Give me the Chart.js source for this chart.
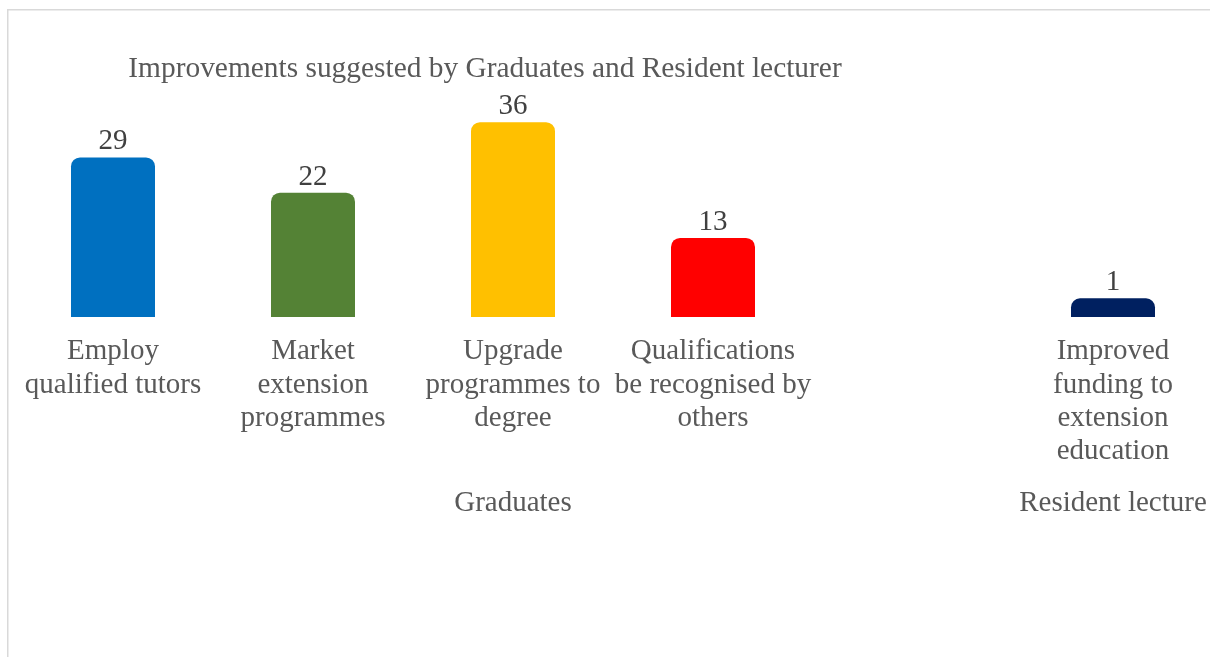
<!DOCTYPE html>
<html>
<head>
<meta charset="utf-8">
<script src="https://cdn.jsdelivr.net/npm/chart.js@4.4.1/dist/chart.umd.min.js"></script>
<style>
html,body{margin:0;padding:0;background:#fff;overflow:hidden;width:1210px;height:657px;}
#wrap{position:absolute;left:0;top:0;width:1230px;height:657px;}
</style>
</head>
<body>
<div id="wrap"><canvas id="c" width="1230" height="657"></canvas></div>
<script>
const titleText = 'Improvements suggested by Graduates and Resident lecturer';
const categories = [
  ['Employ', 'qualified tutors'],
  ['Market', 'extension', 'programmes'],
  ['Upgrade', 'programmes to', 'degree'],
  ['Qualifications', 'be recognised by', 'others'],
  '',
  ['Improved', 'funding to', 'extension', 'education']
];
const groupLabels = ['', '', 'Graduates', '', '', 'Resident lecture'];
const values = [29, 22, 36, 13, null, 1];
const barColors = ['#0070C0', '#548235', '#FFC000', '#FF0000', '#FFFFFF', '#002060'];

const FONT = "'Liberation Serif', 'Times New Roman', serif";
const TEXT = '#595959';

const framePlugin = {
  id: 'frame',
  beforeDraw(chart) {
    const ctx = chart.ctx;
    ctx.save();
    ctx.fillStyle = '#fff';
    ctx.fillRect(0, 0, chart.width, chart.height);
    ctx.strokeStyle = '#d9d9d9';
    ctx.lineWidth = 1.5;
    ctx.strokeRect(7.75, 9.75, 3000, 3000);
    ctx.restore();
  }
};

const titlePlugin = {
  id: 'offsetTitle',
  afterDraw(chart) {
    const ctx = chart.ctx;
    ctx.save();
    ctx.font = '29.4px ' + FONT;
    ctx.fillStyle = TEXT;
    ctx.textAlign = 'center';
    ctx.textBaseline = 'alphabetic';
    ctx.fillText(titleText, 485, 77);
    ctx.restore();
  }
};

const valueLabels = {
  id: 'valueLabels',
  afterDatasetsDraw(chart) {
    const ctx = chart.ctx;
    ctx.save();
    ctx.font = '29px ' + FONT;
    ctx.fillStyle = '#404040';
    ctx.textAlign = 'center';
    ctx.textBaseline = 'alphabetic';
    chart.getDatasetMeta(0).data.forEach((el, i) => {
      const v = chart.data.datasets[0].data[i];
      if (v === null || v === undefined) return;
      ctx.fillText(String(v), el.x, el.y - 8);
    });
    ctx.restore();
  }
};

new Chart(document.getElementById('c'), {
  type: 'bar',
  data: {
    labels: categories,
    datasets: [{
      data: values,
      backgroundColor: barColors,
      base: -2.7,
      borderRadius: {topLeft: 9, topRight: 9, bottomLeft: 0, bottomRight: 0},
      borderSkipped: false,
      categoryPercentage: 1,
      barPercentage: 0.42
    }]
  },
  options: {
    responsive: false,
    animation: false,
    devicePixelRatio: 1,
    layout: {padding: {left: 13, right: 17, top: 100, bottom: 130}},
    plugins: {legend: {display: false}, tooltip: {enabled: false}, title: {display: false}},
    scales: {
      y: {
        display: false,
        min: -2.7,
        max: 40.4
      },
      x: {
        position: 'bottom',
        offset: true,
        grid: {display: false, drawTicks: false},
        border: {display: false},
        ticks: {
          autoSkip: false, maxRotation: 0, minRotation: 0,
          padding: 18,
          color: TEXT,
          font: {family: FONT, size: 29, lineHeight: 1.15}
        },
        afterFit(scale) { scale.height = 160; }
      },
      x2: {
        type: 'category',
        position: 'bottom',
        labels: groupLabels,
        offset: true,
        grid: {display: false, drawTicks: false, offset: true},
        border: {display: false},
        ticks: {
          autoSkip: false, maxRotation: 0, minRotation: 0,
          padding: 10,
          color: TEXT,
          font: {family: FONT, size: 29, lineHeight: 1.15}
        },
        afterFit(scale) { scale.height = 50; }
      }
    }
  },
  plugins: [framePlugin, valueLabels, titlePlugin]
});
</script>
</body>
</html>
